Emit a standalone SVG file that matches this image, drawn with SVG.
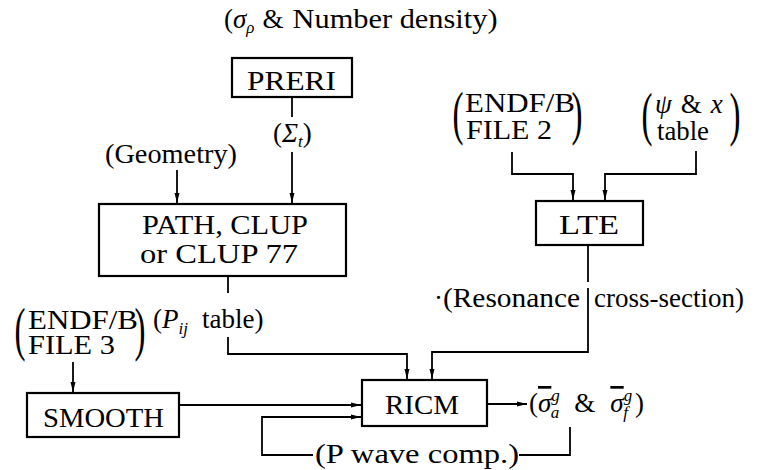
<svg xmlns="http://www.w3.org/2000/svg" width="766" height="470" viewBox="0 0 766 470" font-family="'Liberation Serif', 'Times New Roman', 'DejaVu Serif', serif">
  <defs>
    <marker id="arr" viewBox="0 0 10 6" refX="10" refY="3" markerWidth="10" markerHeight="6" markerUnits="userSpaceOnUse" orient="auto">
      <path d="M0,0.5 L10,3 L0,5.5 z" fill="#000"/>
    </marker>
    <style>
      text{font-family:'Liberation Serif','Times New Roman','DejaVu Serif',serif;fill:#000}
      .t{font-size:27px}
      .s{font-size:17px}
      .i{font-style:italic}
      .box{fill:#fff;stroke:#000;stroke-width:2.2}
      .ln{fill:none;stroke:#000;stroke-width:1.8}
      .ar{marker-end:url(#arr)}
      .par{font-size:60px}
    </style>
  </defs>
  <rect width="766" height="470" fill="#fff"/>

  <!-- connectors -->
  <g id="connectors">
    <path class="ln" d="M292,97 V117"/>
    <path class="ln ar" d="M292,152 V203"/>
    <path class="ln ar" d="M177,170 V203"/>
    <path class="ln" d="M228,276 V293"/>
    <path class="ln ar" d="M228,337 V354 H407 V379"/>
    <path class="ln" d="M588,245 V282"/>
    <path class="ln ar" d="M588,288 V352 H432 V379"/>
    <path class="ln ar" d="M512,152 V174 H573 V200"/>
    <path class="ln ar" d="M696,151 V174 H605 V200"/>
    <path class="ln ar" d="M73,362 V392"/>
    <path class="ln ar" d="M179,405 H361"/>
    <path class="ln ar" d="M313,455 H262 V417 H361"/>
    <path class="ln" d="M519,455 H570 V427"/>
    <path class="ln ar" d="M487,404 H527"/>
  </g>

  <!-- data inputs and labels -->
  <g id="title">
    <text class="t" x="224" y="28">(<tspan class="i">σ</tspan><tspan class="s i" dy="5">ρ</tspan><tspan dy="-5" dx="8">&amp;</tspan><tspan dx="9" textLength="205" lengthAdjust="spacingAndGlyphs">Number density)</tspan></text>
  </g>
  <g id="sigma-t">
    <text class="t" x="273" y="142">(<tspan class="i">Σ</tspan><tspan class="s i" dy="5">t</tspan><tspan dy="-5">)</tspan></text>
  </g>
  <g id="geometry">
    <text class="t" x="105" y="163" textLength="132" lengthAdjust="spacingAndGlyphs">(Geometry)</text>
  </g>
  <g id="endf-file2">
    <text class="par" transform="translate(458 0) scale(0.55 1)" y="133" text-anchor="middle">(</text>
    <text class="par" transform="translate(577 0) scale(0.55 1)" y="133" text-anchor="middle">)</text>
    <text class="t" x="465" y="112" textLength="110" lengthAdjust="spacingAndGlyphs">ENDF/B</text>
    <text class="t" x="466" y="139" textLength="86" lengthAdjust="spacingAndGlyphs">FILE 2</text>
  </g>
  <g id="psi-table">
    <text class="par" transform="translate(647 0) scale(0.55 1)" y="134" text-anchor="middle">(</text>
    <text class="par" transform="translate(735 0) scale(0.55 1)" y="134" text-anchor="middle">)</text>
    <text class="t" x="655" y="113"><tspan class="i">ψ</tspan><tspan dx="9">&amp;</tspan><tspan dx="9" class="i">x</tspan></text>
    <text class="t" x="657" y="140" textLength="52" lengthAdjust="spacingAndGlyphs">table</text>
  </g>
  <g id="pij-table">
    <text class="t" x="153" y="328">(<tspan class="i">P</tspan><tspan class="s i" dy="6">ij</tspan><tspan dy="-6" dx="14">table)</tspan></text>
  </g>
  <g id="resonance">
    <text class="t" x="434" y="307">·<tspan textLength="137" lengthAdjust="spacingAndGlyphs">(Resonance</tspan><tspan dx="14" textLength="150" lengthAdjust="spacingAndGlyphs">cross-section)</tspan></text>
  </g>
  <g id="endf-file3">
    <text class="par" transform="translate(20 0) scale(0.55 1)" y="349" text-anchor="middle">(</text>
    <text class="par" transform="translate(140 0) scale(0.55 1)" y="349" text-anchor="middle">)</text>
    <text class="t" x="28" y="329" textLength="110" lengthAdjust="spacingAndGlyphs">ENDF/B</text>
    <text class="t" x="28" y="354" textLength="87" lengthAdjust="spacingAndGlyphs">FILE 3</text>
  </g>
  <g id="output">
    <text class="t" x="529" y="412">(<tspan class="i" style="text-decoration:overline">σ</tspan><tspan class="s i" dy="-11">g</tspan><tspan class="s i" dx="-9" dy="17">a</tspan><tspan dy="-6" dx="15">&amp;</tspan><tspan dx="15" class="i" style="text-decoration:overline">σ</tspan><tspan class="s i" dy="-11">g</tspan><tspan class="s i" dx="-9" dy="17">f</tspan><tspan dy="-6" dx="7">)</tspan></text>
  </g>
  <g id="p-wave">
    <text class="t" x="315" y="463" textLength="204" lengthAdjust="spacingAndGlyphs">(P wave comp.)</text>
  </g>

  <!-- program blocks -->
  <g id="preri">
    <rect class="box" x="232" y="58" width="120" height="39"/>
    <text class="t" x="247" y="90" textLength="89" lengthAdjust="spacingAndGlyphs">PRERI</text>
  </g>
  <g id="path-clup">
    <rect class="box" x="99" y="204" width="247" height="72"/>
    <text class="t" x="142" y="234" textLength="166" lengthAdjust="spacingAndGlyphs">PATH, CLUP</text>
    <text class="t" x="140" y="263" textLength="158" lengthAdjust="spacingAndGlyphs">or CLUP 77</text>
  </g>
  <g id="lte">
    <rect class="box" x="536" y="201" width="107" height="44"/>
    <text class="t" x="559" y="234" textLength="60" lengthAdjust="spacingAndGlyphs">LTE</text>
  </g>
  <g id="ricm">
    <rect class="box" x="362" y="380" width="125" height="46"/>
    <text class="t" x="385" y="414" textLength="74" lengthAdjust="spacingAndGlyphs">RICM</text>
  </g>
  <g id="smooth">
    <rect class="box" x="27" y="393" width="152" height="44"/>
    <text class="t" x="43" y="427" textLength="121" lengthAdjust="spacingAndGlyphs">SMOOTH</text>
  </g>
</svg>
